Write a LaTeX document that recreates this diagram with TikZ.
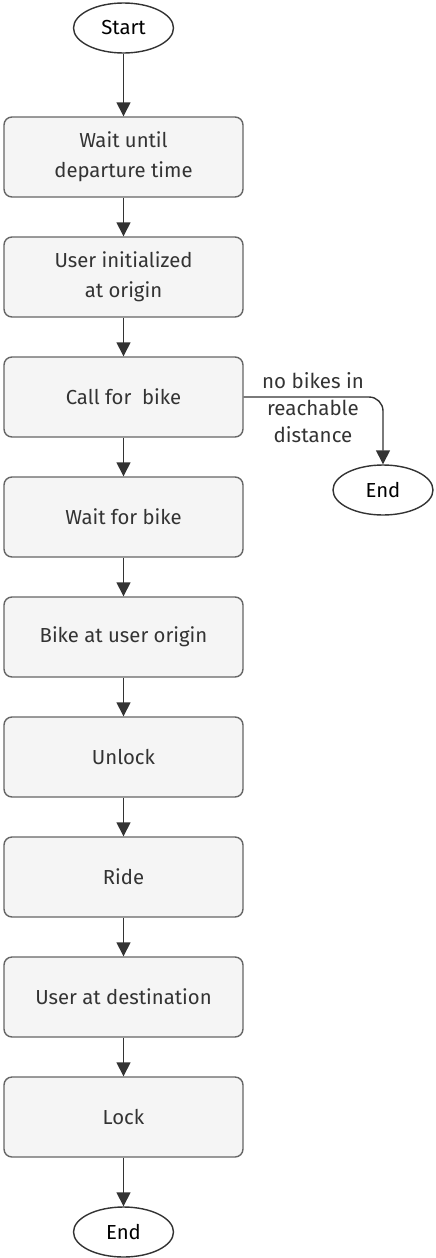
\documentclass[tikz,border=0pt]{standalone}
\usepackage{fontspec}
\setmainfont{Fira Sans}
\usetikzlibrary{shapes.geometric,arrows.meta}
\definecolor{txt}{HTML}{333333}
\definecolor{boxfill}{HTML}{F5F5F5}
\definecolor{boxline}{HTML}{666666}
\tikzset{
  stepbox/.style={draw=boxline, fill=boxfill, rounded corners=8pt, line width=1.4pt,
    minimum width=239pt, minimum height=80pt, align=center, text=txt,
    font=\fontsize{20.3}{30}\selectfont, inner sep=0pt},
  term/.style={draw=txt, fill=white, ellipse, line width=1.4pt, minimum width=100pt,
    minimum height=50pt, inner sep=0pt, font=\fontsize{20.3}{22}\selectfont, text=black},
  flow/.style={draw=txt, line width=1.4pt, -{Triangle[length=14pt,width=14pt]}},
  lbl/.style={align=center, text=txt, font=\fontsize{20.5}{27}\selectfont, inner sep=0pt}
}
\begin{document}
\begin{tikzpicture}[x=1pt,y=-1pt]
\useasboundingbox (0,0) rectangle (436,1258);
\node[term] (start) at (123.5,28) {Start};
\node[stepbox] (b1) at (123.5,157) {Wait until\\departure time};
\node[stepbox] (b2) at (123.5,277) {User initialized\\at origin};
\node[stepbox] (b3) at (123.5,397) {Call for\ \ bike};
\node[stepbox] (b4) at (123.5,517) {Wait for bike};
\node[stepbox] (b5) at (123.5,637) {Bike at user origin};
\node[stepbox] (b6) at (123.5,757) {Unlock};
\node[stepbox] (b7) at (123.5,877) {Ride};
\node[stepbox] (b8) at (123.5,997) {User at destination};
\node[stepbox] (b9) at (123.5,1117) {Lock};
\node[term] (end) at (123.5,1232) {End};
\node[term] (end2) at (383,490) {End};
\draw[flow] (start) -- (b1);
\draw[flow] (b1) -- (b2);
\draw[flow] (b2) -- (b3);
\draw[flow] (b3) -- (b4);
\draw[flow] (b4) -- (b5);
\draw[flow] (b5) -- (b6);
\draw[flow] (b6) -- (b7);
\draw[flow] (b7) -- (b8);
\draw[flow] (b8) -- (b9);
\draw[flow] (b9) -- (end);
\draw[flow, rounded corners=14pt] (b3.east) -- (end2.north |- b3.east) -- (end2.north);
\node[lbl] (l) at (313,408) {no bikes in\\reachable\\distance};
\end{tikzpicture}
\end{document}
